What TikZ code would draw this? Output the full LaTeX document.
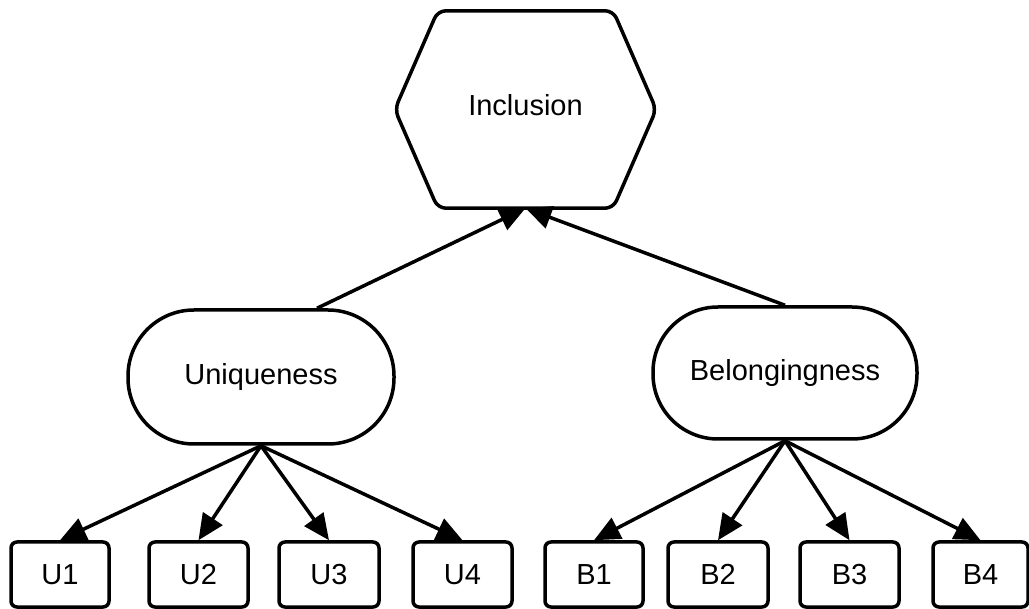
\documentclass[tikz,border=0pt]{standalone}
\usepackage{fontspec}
\setmainfont{Liberation Sans}
\usetikzlibrary{arrows.meta}
\begin{document}
\begin{tikzpicture}[x=1pt, y=-1pt,
  every node/.style={font=\fontsize{29}{34}\selectfont, inner sep=0pt},
  stroke/.style={line width=3.5pt, draw=black},
  pill/.style={stroke, rounded corners=66pt, minimum width=266pt, minimum height=134pt},
  leaf/.style={stroke, rounded corners=6pt, minimum width=99pt, minimum height=65pt},
  link/.style={line width=3.5pt, -{Triangle[length=26pt,width=23pt]}}
]
  % canvas
  \fill[white] (0,0) rectangle (1029,609);
  \useasboundingbox (0,0) rectangle (1029,609);

  % top goal: hexagon drawn around an invisible frame node
  \node[minimum width=261pt, minimum height=197pt] (incl) at (525.5,109.5) {};
  \draw[stroke, line join=round, rounded corners=8pt]
    (incl.west) -- ([xshift=43pt]incl.north west) -- ([xshift=-43pt]incl.north east)
    -- (incl.east) -- ([xshift=-43pt]incl.south east) -- ([xshift=43pt]incl.south west) -- cycle;
  \node at (525.5,105) {Inclusion};

  % second level
  \node[pill] (uniq) at (261,377) {Uniqueness};
  \node[pill, minimum width=264pt, minimum height=132pt, rounded corners=65pt] (belong) at (785,373) {Belongingness};

  % leaves
  \node[leaf, minimum width=98pt] (u1) at (60,574.5) {U1};
  \node[leaf] (u2) at (198.5,574.5) {U2};
  \node[leaf, minimum width=100pt] (u3) at (329,574.5) {U3};
  \node[leaf] (u4) at (462.5,574.5) {U4};
  \node[leaf, minimum width=98pt] (b1) at (594,574.5) {B1};
  \node[leaf, minimum width=100pt] (b2) at (718,574.5) {B2};
  \node[leaf] (b3) at (849.5,574.5) {B3};
  \node[leaf, minimum width=95pt] (b4) at (980.5,574.5) {B4};

  % connectors
  \draw[link] ([xshift=56pt]uniq.north) -- (incl.south);
  \draw[link] (belong.north) -- (incl.south);
  \foreach \t in {u1,u2,u3,u4} \draw[link] (uniq.south) -- (\t.north);
  \foreach \t in {b1,b2,b3,b4} \draw[link] (belong.south) -- (\t.north);
\end{tikzpicture}
\end{document}
